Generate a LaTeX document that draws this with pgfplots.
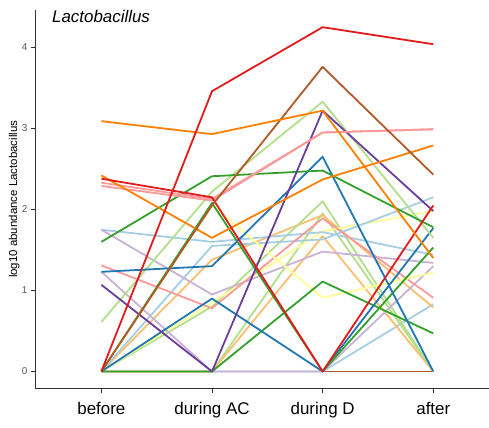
\documentclass[border=0pt]{standalone}
\usepackage{pgfplots}
\pgfplotsset{compat=1.18}
\usepackage{fontspec}
\setmainfont{Liberation Sans}

% ColorBrewer "Paired"
\definecolor{pLB}{HTML}{A6CEE3}
\definecolor{pB}{HTML}{1F78B4}
\definecolor{pLG}{HTML}{B2DF8A}
\definecolor{pG}{HTML}{33A02C}
\definecolor{pP}{HTML}{FB9A99}
\definecolor{pR}{HTML}{E31A1C}
\definecolor{pLO}{HTML}{FDBF6F}
\definecolor{pO}{HTML}{FF7F00}
\definecolor{pLP}{HTML}{CAB2D6}
\definecolor{pPu}{HTML}{6A3D9A}
\definecolor{pY}{HTML}{FFFF99}
\definecolor{pBr}{HTML}{B15928}

\begin{document}
\begin{tikzpicture}
\path (-35bp,-39bp) rectangle (454bp,389bp);
\begin{axis}[
  width=454bp, height=379bp, scale only axis,
  xmin=-0.6, xmax=3.5, ymin=-0.2125, ymax=4.4625,
  axis lines=left,
  axis line style={black!80, line width=0.8pt, -},
  xtick={0,1,2,3},
  xticklabels={before, during AC, during D, after},
  ytick={0,1,2,3,4},
  tick style={black!80, line width=0.6pt},
  tick align=outside, major tick length=4bp,
  x tick label style={font=\fontsize{17}{19}\selectfont, text=black, yshift=-6bp},
  y tick label style={font=\fontsize{10}{12}\selectfont, text=black!65},
  /pgf/number format/assume math mode=true,
  ylabel={log10 abundance Lactobacillus},
  ylabel style={font=\fontsize{11.5}{13}\selectfont, at={(axis description cs:-0.046,0.5)}, anchor=center},
  clip=false,
  every axis plot/.append style={line width=1.8pt, no markers, line join=round},
]
% one line per subject: before, during AC, during D, after
\addplot[pBr] coordinates {(0,0) (1,0) (2,0) (3,0)};
\addplot[pLB] coordinates {(0,0) (1,0) (2,0) (3,0.83)};
\addplot[pLG] coordinates {(0,0) (1,0) (2,1.95) (3,0)};
\addplot[pLO] coordinates {(0,0) (1,0) (2,1.67) (3,0)};
\addplot[pLO] coordinates {(0,0) (1,1.38) (2,1.93) (3,0.79)};
\addplot[pLG] coordinates {(0,0) (1,0.80) (2,2.10) (3,0)};
\addplot[pY] coordinates {(0,0) (1,0.85) (2,1.73) (3,1.98)};
\addplot[pLB] coordinates {(0,0) (1,1.55) (2,1.63) (3,2.15)};
\addplot[pLB] coordinates {(0,1.75) (1,1.60) (2,1.72) (3,1.44)};
\addplot[pLP] coordinates {(0,1.75) (1,0.95) (2,1.48) (3,1.34)};
\addplot[pLP] coordinates {(0,1.23) (1,0) (2,0) (3,1.30)};
\addplot[pP] coordinates {(0,1.31) (1,0.78) (2,1.89) (3,0.91)};
\addplot[pY] coordinates {(0,0) (1,2.05) (2,0.91) (3,1.22)};
\addplot[pG] coordinates {(0,0) (1,0) (2,1.11) (3,0.47)};
\addplot[pB] coordinates {(0,0) (1,0.90) (2,0) (3,1.77)};
\addplot[pLG] coordinates {(0,0.61) (1,2.22) (2,3.33) (3,1.65)};
\addplot[pG] coordinates {(0,0) (1,2.08) (2,0) (3,1.53)};
\addplot[pB] coordinates {(0,1.23) (1,1.30) (2,2.65) (3,0)};
\addplot[pG] coordinates {(0,1.60) (1,2.41) (2,2.48) (3,1.78)};
\addplot[pPu] coordinates {(0,1.07) (1,0) (2,3.22) (3,1.98)};
\addplot[pP] coordinates {(0,2.29) (1,2.11) (2,2.95) (3,2.99)};
\addplot[pP] coordinates {(0,2.33) (1,2.13) (2,2.95) (3,2.99)};
\addplot[pO] coordinates {(0,2.42) (1,1.65) (2,2.37) (3,2.79)};
\addplot[pR] coordinates {(0,2.38) (1,2.15) (2,0) (3,2.05)};
\addplot[pBr] coordinates {(0,0) (1,2.05) (2,3.76) (3,2.43)};
\addplot[pO] coordinates {(0,3.09) (1,2.93) (2,3.22) (3,1.40)};
\addplot[pR] coordinates {(0,0) (1,3.46) (2,4.25) (3,4.04)};

\node[anchor=base west, inner sep=0, font=\fontsize{17}{19}\selectfont\itshape]
  at (axis description cs:0.0374,0.9657) {Lactobacillus};
\end{axis}
\end{tikzpicture}
\end{document}
